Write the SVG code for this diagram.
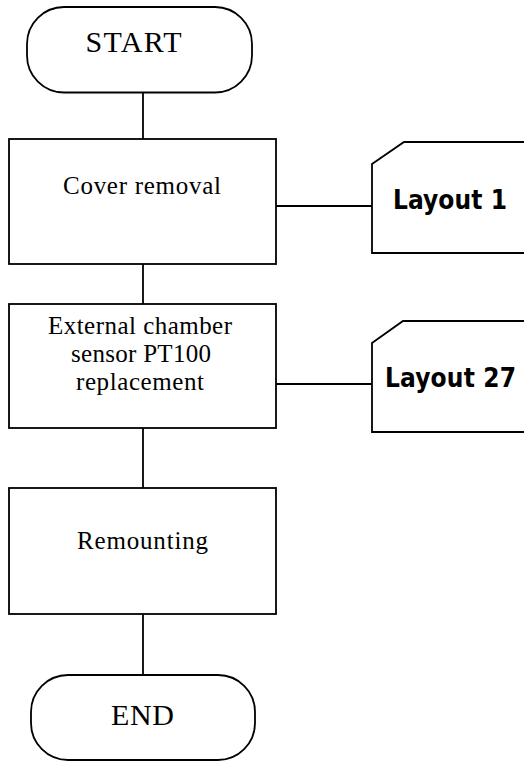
<svg xmlns="http://www.w3.org/2000/svg" width="524" height="761" viewBox="0 0 524 761">
<style>
.s{fill:#fff;stroke:#000;stroke-width:1.8}
.c{fill:none;stroke:#000;stroke-width:1.8}
.t{font-family:"Liberation Serif","Times New Roman",serif;font-size:25px;fill:#000;text-anchor:middle}
.tb{font-family:"Liberation Serif","Times New Roman",serif;font-size:30px;fill:#000;text-anchor:middle}
.l{font-family:"DejaVu Sans Condensed","DejaVu Sans",sans-serif;font-weight:bold;font-size:26px;fill:#000;text-anchor:middle}
</style>
<rect width="524" height="761" fill="#fff"/>
<g id="connectors">
<line class="c" x1="143" y1="92" x2="143" y2="139"/>
<line class="c" x1="143" y1="264" x2="143" y2="304"/>
<line class="c" x1="143" y1="428" x2="143" y2="488"/>
<line class="c" x1="143" y1="614" x2="143" y2="675"/>
<line class="c" x1="276" y1="206" x2="372" y2="206"/>
<line class="c" x1="276" y1="384" x2="372" y2="384"/>
</g>
<g id="start">
<rect class="s" x="27" y="7" width="225" height="85.5" rx="37" ry="37"/>
<text class="tb" x="133.5" y="52" textLength="96" lengthAdjust="spacing">START</text>
</g>
<g id="cover-removal">
<rect class="s" x="9" y="139" width="267" height="125"/>
<text class="t" x="142" y="194" textLength="158" lengthAdjust="spacing">Cover removal</text>
</g>
<g id="layout1">
<path class="s" d="M530,142 H404 L372,164 V253 H530"/>
<text class="l" x="450" y="209" textLength="114" lengthAdjust="spacing">Layout 1</text>
</g>
<g id="sensor-replacement">
<rect class="s" x="9" y="304" width="267" height="124"/>
<text class="t" x="140" y="334" textLength="184" lengthAdjust="spacing">External chamber</text>
<text class="t" x="141" y="362" textLength="140" lengthAdjust="spacing">sensor PT100</text>
<text class="t" x="140" y="390" textLength="128" lengthAdjust="spacing">replacement</text>
</g>
<g id="layout27">
<path class="s" d="M530,321 H403 L372,343 V432 H530"/>
<text class="l" x="450.5" y="387" textLength="131" lengthAdjust="spacing">Layout 27</text>
</g>
<g id="remounting">
<rect class="s" x="9" y="488" width="267" height="126"/>
<text class="t" x="142.5" y="549" textLength="131" lengthAdjust="spacing">Remounting</text>
</g>
<g id="end">
<rect class="s" x="31" y="675" width="224" height="85" rx="37" ry="37"/>
<text class="tb" x="142.5" y="725" textLength="63" lengthAdjust="spacing">END</text>
</g>
</svg>
